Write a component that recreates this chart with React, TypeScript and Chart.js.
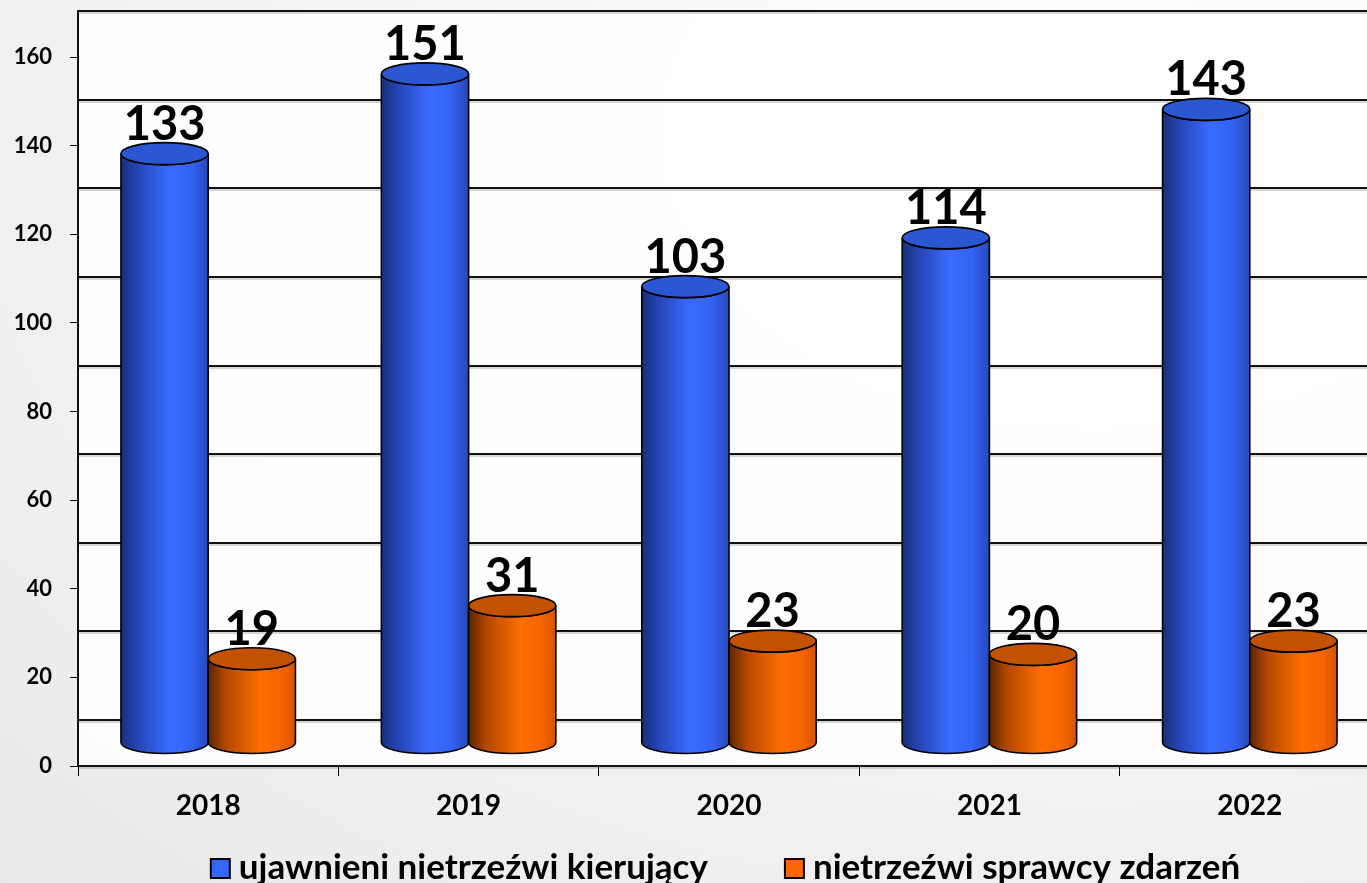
import React, { useEffect, useRef } from 'react';
import { Chart, registerables } from 'chart.js';

Chart.register(...registerables);

const years = ['2018', '2019', '2020', '2021', '2022'];
const drivers = [133, 151, 103, 114, 143];
const perpetrators = [19, 31, 23, 20, 23];
const seriesNames = ['ujawnieni nietrzeźwi kierujący', 'nietrzeźwi sprawcy zdarzeń'];
const legendColors = ['#3366ff', '#ff6600'];
const yMin = 0;
const yMax = 160;
const yStep = 20;

const FONT = 'Lato';
const DEPTH = 46;
const RY = 11;
const CANVAS_W = 1400;
const CANVAS_H = 883;

const BLUE_STOPS: [number, string][] = [
  [0, '#182f7a'],
  [0.2, '#2546b8'],
  [0.55, '#3a6bff'],
  [0.8, '#3463f2'],
  [1, '#2748ba'],
];
const ORANGE_STOPS: [number, string][] = [
  [0, '#5e2400'],
  [0.2, '#b24800'],
  [0.6, '#ff6e00'],
  [0.85, '#f56400'],
  [1, '#d45200'],
];
const TOPS = ['#2b57d2', '#c25200'];
const STOPS = [BLUE_STOPS, ORANGE_STOPS];

function drawCylinder(ctx: CanvasRenderingContext2D, cx: number, w: number, yTop: number, yBase: number, stops: [number, string][], topColor: string) {
  const rx = w / 2;
  const left = cx - rx;
  const right = cx + rx;
  const g = ctx.createLinearGradient(left, 0, right, 0);
  stops.forEach(([o, c]) => g.addColorStop(o, c));
  ctx.save();
  ctx.lineWidth = 1.6;
  ctx.strokeStyle = '#000';
  ctx.beginPath();
  ctx.moveTo(left, yTop);
  ctx.lineTo(left, yBase);
  ctx.ellipse(cx, yBase, rx, RY, 0, Math.PI, 0, true);
  ctx.lineTo(right, yTop);
  ctx.ellipse(cx, yTop, rx, RY, 0, 0, Math.PI, false);
  ctx.closePath();
  ctx.fillStyle = g;
  ctx.fill();
  ctx.stroke();
  ctx.beginPath();
  ctx.ellipse(cx, yTop, rx, RY, 0, 0, Math.PI * 2);
  ctx.fillStyle = topColor;
  ctx.fill();
  ctx.stroke();
  ctx.restore();
}

function hLine(ctx: CanvasRenderingContext2D, x0: number, x1: number, y: number) {
  ctx.strokeStyle = 'rgba(120,120,120,0.6)';
  ctx.lineWidth = 1;
  ctx.beginPath();
  ctx.moveTo(x0, y + 2);
  ctx.lineTo(x1, y + 2);
  ctx.stroke();
  ctx.strokeStyle = '#111';
  ctx.lineWidth = 2;
  ctx.beginPath();
  ctx.moveTo(x0, y);
  ctx.lineTo(x1, y);
  ctx.stroke();
}

const wallPlugin = {
  id: 'wall3d',
  beforeDraw(chart: any) {
    const { ctx, chartArea } = chart;
    const y = chart.scales.y;
    const left = chartArea.left;
    const right = chartArea.right;
    const top = Math.round(y.getPixelForValue(yMax) - DEPTH);
    const bottom = Math.round(y.getPixelForValue(yMin));
    ctx.save();
    ctx.fillStyle = 'rgba(255,255,255,0.85)';
    ctx.fillRect(left, top, right - left, bottom - top);
    y.ticks.forEach((t: any) => {
      const py = Math.round(y.getPixelForValue(t.value) - DEPTH);
      hLine(ctx, left, right, py);
    });
    hLine(ctx, left, right, bottom);
    ctx.strokeStyle = '#111';
    ctx.lineWidth = 2;
    ctx.beginPath();
    ctx.moveTo(left, top - 1);
    ctx.lineTo(left, bottom + 1);
    ctx.stroke();
    ctx.restore();
  },
  beforeDatasetDraw() {
    return false;
  },
  afterDatasetsDraw(chart: any) {
    const { ctx } = chart;
    chart.data.datasets.forEach((ds: any, di: number) => {
      const meta = chart.getDatasetMeta(di);
      meta.data.forEach((bar: any, i: number) => {
        const { x, y, base, width } = bar.getProps(['x', 'y', 'base', 'width'], true);
        const yTop = y - DEPTH / 2;
        const yBase = base - DEPTH / 2;
        drawCylinder(ctx, x, width, yTop, yBase, STOPS[di], TOPS[di]);
        ctx.save();
        ctx.fillStyle = '#000';
        ctx.font = `bold 47px ${FONT}`;
        ctx.textAlign = 'center';
        ctx.textBaseline = 'alphabetic';
        ctx.fillText(String(ds.data[i]), x, yTop - RY - 3);
        ctx.restore();
      });
    });
  },
  afterDraw(chart: any) {
    const { ctx, chartArea } = chart;
    const fontSize = 35;
    const box = 21;
    const gap = 8;
    const itemGap = 76;
    ctx.save();
    ctx.font = `bold ${fontSize}px ${FONT}`;
    const widths = chart.data.datasets.map((ds: any) => ctx.measureText(ds.label).width);
    const total = widths.reduce((a: number, w: number) => a + box + gap + w, 0) + itemGap * (widths.length - 1);
    let x = (chartArea.left + chartArea.right) / 2 - 4 - total / 2;
    const baseline = chartArea.bottom + 113;
    chart.data.datasets.forEach((ds: any, i: number) => {
      ctx.fillStyle = legendColors[i];
      ctx.fillRect(x + 1, baseline - box + 1, box - 2, box - 2);
      ctx.strokeStyle = '#000';
      ctx.lineWidth = 2;
      ctx.strokeRect(x + 1, baseline - box + 1, box - 2, box - 2);
      ctx.fillStyle = '#000';
      ctx.textAlign = 'left';
      ctx.textBaseline = 'alphabetic';
      ctx.fillText(ds.label, x + box + gap, baseline);
      x += box + gap + widths[i] + itemGap;
    });
    ctx.restore();
  },
};

export default function App() {
  const ref = useRef<HTMLCanvasElement>(null);
  useEffect(() => {
    if (!ref.current) return;
    const chart = new Chart(ref.current, {
      type: 'bar',
      data: {
        labels: years,
        datasets: [
          { label: seriesNames[0], data: drivers, backgroundColor: legendColors[0], borderColor: '#000', borderWidth: 1.5 },
          { label: seriesNames[1], data: perpetrators, backgroundColor: legendColors[1], borderColor: '#000', borderWidth: 1.5 },
        ],
      },
      options: {
        animation: false,
        responsive: true,
        maintainAspectRatio: false,
        datasets: { bar: { categoryPercentage: 0.67, barPercentage: 1 } },
        layout: { padding: { top: 57, right: 20, left: 0, bottom: 57 } },
        scales: {
          x: {
            afterFit: (scale: any) => { scale.height = 60; },
            grid: { display: true, drawOnChartArea: false, drawTicks: true, tickLength: 10, color: '#000', offset: true },
            border: { display: false },
            ticks: { color: '#000', font: { family: FONT, size: 28, weight: 'bold' }, padding: 13 },
          },
          y: {
            min: yMin,
            max: yMax,
            afterFit: (scale: any) => { scale.width = 78; },
            grid: { display: true, drawOnChartArea: false, drawTicks: true, tickLength: 8, color: '#000' },
            border: { display: false },
            ticks: { stepSize: yStep, color: '#000', font: { family: FONT, size: 22, weight: 'bold' }, padding: 18 },
          },
        },
        plugins: {
          tooltip: { enabled: false },
          legend: { display: false },
        },
      },
      plugins: [wallPlugin],
    });
    return () => chart.destroy();
  }, []);
  return (
    <div style={{ position: 'fixed', left: 0, top: 0, width: 1367, height: 883, overflow: 'hidden', background: 'radial-gradient(ellipse at 80% 15%, #ffffff 0%, #f6f6f6 45%, #e9e9e9 100%)' }}>
      <div style={{ position: 'absolute', left: 0, top: 0, width: CANVAS_W, height: CANVAS_H }}>
        <canvas ref={ref} />
      </div>
    </div>
  );
}
